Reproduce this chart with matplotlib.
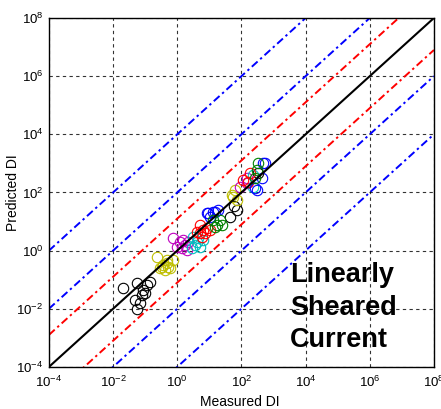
import numpy as np
import matplotlib
matplotlib.use('Agg')
import matplotlib.pyplot as plt
from matplotlib.ticker import LogFormatterMathtext, NullLocator

plt.rcParams['font.family'] = ['Liberation Sans', 'DejaVu Sans']
plt.rcParams['mathtext.fontset'] = 'custom'
plt.rcParams['mathtext.rm'] = 'Liberation Sans'
plt.rcParams['mathtext.default'] = 'regular'

# log10 values of (measured, predicted) for each data group
black_lx = [-1.68, -1.25, -1.32, -1.16, -1.27, -1.06, -0.95, -0.85, -1.01, -1.11, 2.52, 1.85, 1.64, 1.78]
black_ly = [-1.29, -1.10, -1.70, -1.81, -2.02, -1.35, -1.18, -1.07, -1.47, -1.52, 2.66, 1.40, 1.17, 1.55]
yellow_lx = [-0.64, -0.33, -0.13, -0.44, -0.28, -0.54, -0.38, -0.23, -0.33, -0.49, 1.75, 1.85, 1.80, 1.70]
yellow_ly = [-0.21, -0.32, -0.32, -0.49, -0.55, -0.61, -0.66, -0.61, -0.43, -0.55, 1.86, 1.74, 2.09, 1.91]
magenta_lx = [-0.13, 0.08, 0.24, 0.14, 0.29, -0.02, 0.34, 0.19, 2.16, 1.95, 2.16]
magenta_ly = [0.43, 0.31, 0.20, 0.08, 0.02, 0.14, 0.31, 0.37, 2.49, 2.20, 2.32]
cyan_lx = [0.50, 0.60, 0.71, 0.45, 0.81, 0.55, 0.64, 2.37, 2.37]
cyan_ly = [0.48, 0.31, 0.14, 0.08, 0.37, 0.20, 0.44, 2.60, 2.20]
red_lx = [0.60, 0.71, 0.81, 0.76, 0.71, 0.92, 1.02, 0.86, 2.27, 2.21, 2.06]
red_ly = [0.65, 0.60, 0.71, 0.48, 0.88, 0.77, 0.71, 0.60, 2.66, 2.37, 2.43]
blue_lx = [0.92, 1.12, 1.02, 1.28, 0.97, 1.17, 2.73, 2.63, 2.47, 2.68, 2.42]
blue_ly = [1.29, 1.34, 1.17, 1.40, 1.29, 1.34, 3.00, 2.49, 2.09, 3.00, 2.15]
green_lx = [1.12, 1.23, 1.33, 1.17, 1.38, 2.52, 2.47, 2.42]
green_ly = [1.06, 0.88, 1.06, 0.82, 0.88, 3.00, 2.77, 2.49]

groups = [
    (black_lx, black_ly, 'k'),
    (yellow_lx, yellow_ly, (0.75, 0.75, 0)),
    (magenta_lx, magenta_ly, (0.75, 0, 0.75)),
    (cyan_lx, cyan_ly, (0, 0.75, 0.75)),
    (red_lx, red_ly, 'r'),
    (blue_lx, blue_ly, 'b'),
    (green_lx, green_ly, (0, 0.5, 0)),
]

# band offsets (decades) around the 1:1 line
red_band = 1.1
blue_bands = [2, 4]

fig = plt.figure(figsize=(4.41, 4.09), dpi=100)
ax = fig.add_axes([0.111, 0.103, 0.873, 0.853])

xl = np.array([1e-4, 1e8])
for lx, ly, c in groups:
    ax.plot(10 ** np.array(lx), 10 ** np.array(ly), 'o', mfc='none', mec=c, ms=7.5, mew=0.8)

ax.plot(xl, xl, 'k-', lw=1.5)
dd = (0, (4, 1.8, 1.2, 1.8))
for s in (1, -1):
    ax.plot(xl, xl * 10 ** (s * red_band), color='r', ls=dd, lw=1.4)
    for b in blue_bands:
        ax.plot(xl, xl * 10 ** (s * b), color='b', ls=dd, lw=1.4)

ax.set_xscale('log')
ax.set_yscale('log')
ax.set_xlim(1e-4, 1e8)
ax.set_ylim(1e-4, 1e8)
ticks = [1e-4, 1e-2, 1e0, 1e2, 1e4, 1e6, 1e8]
ax.set_xticks(ticks)
ax.set_yticks(ticks)
ax.xaxis.set_major_formatter(LogFormatterMathtext())
ax.yaxis.set_major_formatter(LogFormatterMathtext())
ax.xaxis.set_minor_locator(NullLocator())
ax.yaxis.set_minor_locator(NullLocator())
ax.tick_params(direction='in', length=0, labelsize=9.5)
ax.tick_params(axis='x', pad=6)
ax.tick_params(axis='y', pad=4)
ax.grid(True, color='k', ls=(0, (3, 3)), lw=0.8, alpha=0.8)
for sp in ax.spines.values():
    sp.set_linewidth(1.0)

ax.set_xlabel('Measured DI', fontsize=10)
ax.set_ylabel('Predicted DI', fontsize=10)
ax.xaxis.set_label_coords(0.495, -0.082)
ax.yaxis.set_label_coords(-0.075, 0.5)

ax.text(0.626, 0.17, 'Linearly\nSheared\nCurrent', transform=ax.transAxes,
        fontsize=19.5, fontweight='bold', ha='left', va='center', linespacing=1.32)

fig.savefig('out.png', dpi=100)
